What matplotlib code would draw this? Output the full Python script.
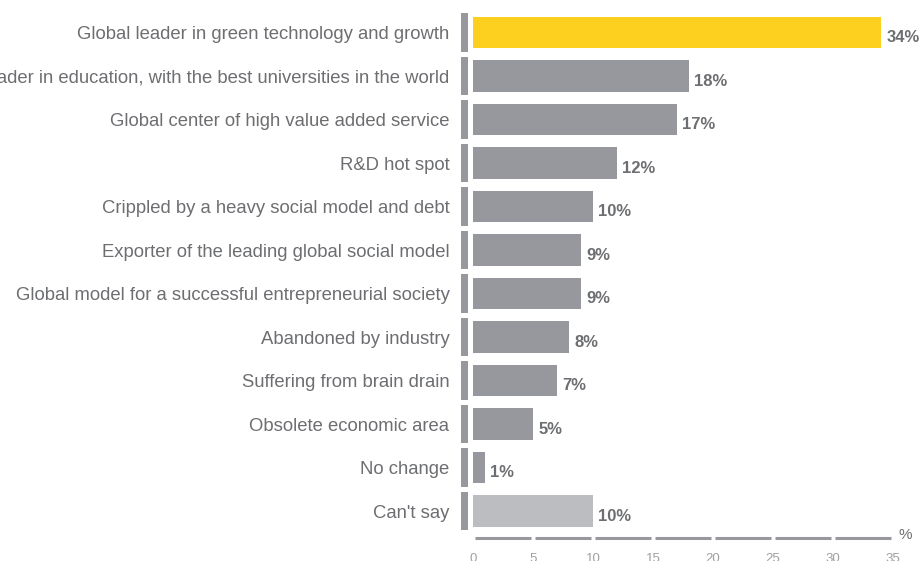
import numpy as np
import matplotlib.pyplot as plt

# data
categories = ['Global leader in green technology and growth',
              'Global leader in education, with the best universities in the world',
              'Global center of high value added service',
              'R&D hot spot',
              'Crippled by a heavy social model and debt',
              'Exporter of the leading global social model',
              'Global model for a successful entrepreneurial society',
              'Abandoned by industry',
              'Suffering from brain drain',
              'Obsolete economic area',
              'No change',
              "Can't say"]
values = [34, 18, 17, 12, 10, 9, 9, 8, 7, 5, 1, 10]
xticks = [0, 5, 10, 15, 20, 25, 30, 35]

yellow = '#FDD020'
grey = '#96989E'
light = '#BBBDC1'
txt = '#6D6E71'

plt.rcParams['font.family'] = ['Liberation Sans', 'DejaVu Sans']

fig = plt.figure(figsize=(9.23, 5.61), dpi=100)
ax = fig.add_axes([473/923, 1-538/561, 420/923, (538-10.75)/561])

y = np.arange(len(categories))
colors = [yellow] + [grey]*(len(categories)-2) + [light]
ax.barh(y, values, height=0.73, color=colors)

# small segments on the left of each row
ax.barh(y, 0.6, left=-1.0, height=0.88, color=grey, clip_on=False)

# value labels
for yi, v in zip(y, values):
    ax.text(v + 0.45, yi + 0.12, f'{v}%', ha='left', va='center',
            fontsize=12, fontweight='bold', color=txt)

ax.set_xlim(0, 35)
ax.set_ylim(11.62, -0.5)
ax.set_yticks(y)
ax.set_yticklabels(categories, fontsize=13.3, color=txt)
ax.tick_params(axis='y', length=0, pad=17)
ax.set_xticks(xticks)
ax.set_xticklabels([str(t) for t in xticks], fontsize=9.5, color='#A0A0A0')
ax.tick_params(axis='x', length=0, pad=11)
for s in ax.spines.values():
    s.set_visible(False)

# segmented x axis line
for a, b in zip(xticks[:-1], xticks[1:]):
    ax.plot([a + 0.15, b - 0.15], [0, 0], color=grey, lw=2.2,
            transform=ax.get_xaxis_transform(), clip_on=False,
            solid_capstyle='butt')
ax.text(36.0, -0.008, '%', transform=ax.get_xaxis_transform(),
        ha='center', va='bottom', fontsize=11, color=txt)

fig.savefig('out.png', dpi=100)
